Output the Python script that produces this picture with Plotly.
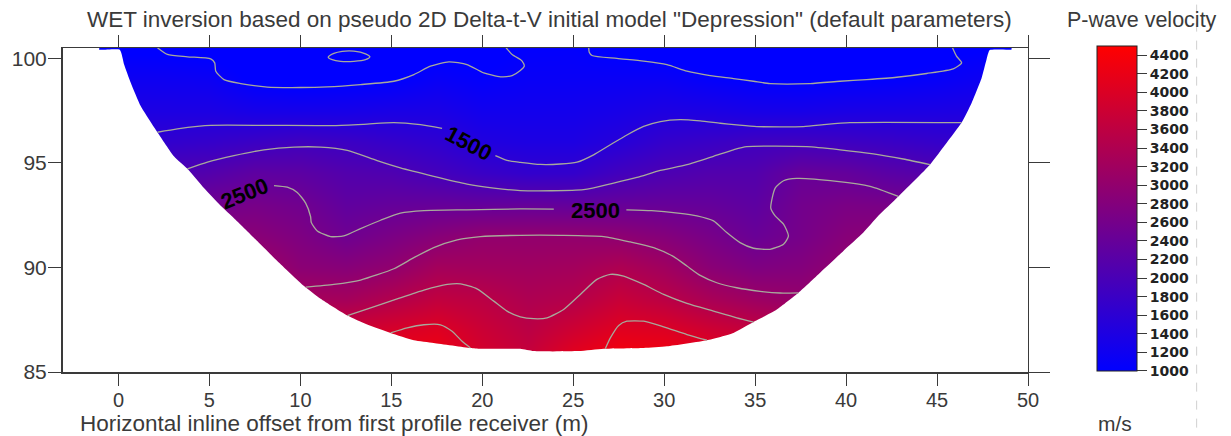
import plotly.graph_objects as go

# ---------- data ----------
X_GRID = [-2.5, 0, 2.5, 5, 7.5, 10, 12.5, 15, 17.5, 20, 22.5, 25, 27.5, 30, 32.5, 35, 37.5, 40, 42.5, 45, 47.5, 50]
Y_GRID = [100.5, 99, 97.5, 96, 94.5, 93, 91.5, 90, 88.5, 87, 85.5]
# velocity (m/s) per x column, listed from top (100.5 m) to bottom (85.5 m)
VELOCITY_COLUMNS = [
    [950, 1180, 1390, 1680, 2070, 2560, 3000, 3375, 3750, 4100, 4400],
    [960, 1190, 1400, 1680, 2070, 2560, 3000, 3375, 3750, 4100, 4400],
    [950, 1180, 1390, 1675, 2067, 2560, 3000, 3375, 3750, 4100, 4400],
    [920, 1156, 1390, 1722, 2139, 2553, 2947, 3360, 3750, 4100, 4400],
    [850, 960, 1320, 1808, 2294, 2633, 2883, 3222, 3667, 4170, 4500],
    [850, 900, 1305, 1880, 2266, 2548, 2726, 2905, 3290, 3917, 4400],
    [900, 940, 1311, 1820, 2131, 2319, 2511, 2845, 3250, 3830, 4300],
    [880, 975, 1355, 1729, 2080, 2380, 2680, 2980, 3437, 3948, 4400],
    [900, 1110, 1364, 1640, 1940, 2405, 2855, 3250, 3640, 4060, 4350],
    [900, 1040, 1243, 1446, 1789, 2380, 3000, 3222, 3555, 3780, 3950],
    [1020, 1110, 1250, 1400, 1690, 2390, 3000, 3190, 3385, 3560, 3750],
    [1030, 1120, 1260, 1400, 1700, 2370, 3000, 3234, 3470, 3830, 4200],
    [950, 1130, 1320, 1525, 1910, 2410, 2950, 3385, 3730, 4080, 4450],
    [900, 1135, 1406, 1715, 2050, 2415, 2820, 3198, 3560, 4030, 4400],
    [900, 1045, 1386, 1786, 2127, 2381, 2636, 2890, 3315, 3833, 4300],
    [880, 980, 1325, 1875, 2129, 2284, 2438, 2730, 3145, 3680, 4200],
    [880, 960, 1317, 1890, 2418, 2570, 2620, 2800, 3050, 3500, 4000],
    [880, 990, 1360, 1850, 2370, 2680, 2850, 3000, 3300, 3700, 4100],
    [900, 1020, 1370, 1790, 2220, 2650, 2950, 3200, 3500, 3850, 4200],
    [950, 1080, 1385, 1730, 2150, 2600, 3000, 3300, 3600, 3900, 4200],
    [980, 1180, 1410, 1730, 2150, 2600, 3000, 3300, 3600, 3900, 4200],
    [1000, 1200, 1420, 1740, 2160, 2600, 3000, 3300, 3600, 3900, 4200],
]

# model outline (x, elevation)
OUTLINE_X = [-1.06, 0.07, 0.31, 0.68, 1.23, 2.14, 3.06, 3.79, 4.70, 5.62, 6.35, 7.63, 8.73, 10.20, 11.11, 12.58, 13.67, 14.96, 16.24, 17.33, 19.35, 19.90, 22.09, 22.83, 25.30, 26.67, 28.87, 30.15, 32.35, 33.81, 34.91, 36.19, 37.38, 38.57, 39.85, 40.95, 41.77, 42.87, 44.61, 45.52, 46.35, 46.90, 47.45, 47.72, 47.90, 49.10]
OUTLINE_Y = [100.42, 100.42, 99.71, 98.83, 97.71, 96.47, 95.31, 94.72, 93.80, 92.95, 92.36, 91.27, 90.31, 89.11, 88.50, 87.70, 87.27, 86.87, 86.52, 86.39, 86.15, 86.11, 86.11, 86.00, 86.00, 86.11, 86.15, 86.23, 86.52, 86.87, 87.39, 87.99, 88.79, 89.75, 90.79, 91.67, 92.47, 93.40, 94.92, 95.95, 96.93, 97.87, 99.07, 99.95, 100.40, 100.43]

# isolines (x, elevation)
ISO_1000_A_X = [2.14, 2.69, 3.79, 5.07, 5.29, 5.35, 5.80, 6.72, 8.18, 10.01, 11.48, 13.31, 15.14, 16.24, 17.15, 18.16, 19.16, 20.08, 21.00, 21.64, 22.09, 22.31, 22.19, 22.09, 21.64, 21.36, 21.31]
ISO_1000_A_Y = [100.51, 100.19, 100.08, 99.98, 99.79, 99.39, 98.99, 98.80, 98.63, 98.61, 98.64, 98.75, 98.91, 99.23, 99.63, 99.84, 99.71, 99.31, 99.12, 99.18, 99.42, 99.63, 99.87, 99.95, 100.19, 100.46, 100.51]
ISO_1000_LOOP_X = [11.53, 11.84, 12.30, 12.94, 13.58, 13.82, 13.58, 12.94, 12.21, 11.75, 11.53]
ISO_1000_LOOP_Y = [100.06, 100.24, 100.34, 100.35, 100.22, 100.08, 99.94, 99.86, 99.86, 99.94, 100.06]
ISO_1000_B_X = [25.85, 25.88, 26.03, 27.40, 28.87, 30.15, 31.25, 32.53, 33.81, 34.91, 35.82, 38.02, 39.67, 41.13, 42.78, 44.43, 45.89, 46.35, 46.07, 45.85]
ISO_1000_B_Y = [100.51, 100.30, 100.14, 100.00, 99.87, 99.70, 99.39, 99.18, 99.04, 98.91, 98.80, 98.80, 98.91, 98.99, 99.10, 99.28, 99.50, 99.79, 100.11, 100.51]
ISO_1500_A_X = [2.14, 3.24, 4.34, 5.07, 8.18, 11.84, 13.49, 15.14, 16.60, 17.79]
ISO_1500_A_Y = [96.47, 96.63, 96.75, 96.80, 96.80, 96.79, 96.85, 96.93, 96.83, 96.66]
ISO_1500_B_X = [20.72, 21.36, 22.09, 23.19, 24.29, 25.21, 26.12, 27.04, 27.95, 28.87, 29.79, 30.88, 31.98, 33.08, 33.99, 35.09, 37.65, 38.93, 40.21, 46.35]
ISO_1500_B_Y = [95.35, 95.12, 95.03, 94.93, 94.95, 95.04, 95.39, 95.87, 96.34, 96.75, 96.98, 97.07, 97.01, 96.90, 96.82, 96.74, 96.74, 96.85, 96.93, 96.93]
ISO_2000_X = [3.79, 4.89, 6.35, 8.00, 9.65, 11.11, 12.58, 14.22, 15.50, 17.33, 19.16, 20.63, 22.09, 25.57, 27.22, 28.50, 29.78, 31.25, 32.71, 33.81, 34.54, 37.84, 39.67, 41.50, 43.14, 44.61]
ISO_2000_Y = [94.72, 95.04, 95.35, 95.63, 95.76, 95.76, 95.60, 95.11, 94.76, 94.36, 93.99, 93.80, 93.68, 93.72, 94.04, 94.31, 94.64, 94.92, 95.32, 95.63, 95.78, 95.78, 95.63, 95.44, 95.19, 94.92]
ISO_2500_A_X = [8.55, 9.28, 9.83, 10.29, 10.56, 10.60, 10.93, 11.66, 12.39, 13.31, 14.41, 15.50, 16.79, 19.16, 22.09, 23.93]
ISO_2500_A_Y = [93.92, 93.84, 93.59, 93.08, 92.44, 92.15, 91.75, 91.48, 91.51, 91.86, 92.26, 92.60, 92.72, 92.76, 92.80, 92.79]
ISO_2500_B_X = [27.92, 29.31, 30.76, 31.80, 32.71, 33.44, 34.17, 34.91, 35.82, 36.56, 36.83, 36.56, 36.10, 35.86, 36.10, 36.56, 37.29, 39.49, 41.32, 42.87]
ISO_2500_B_Y = [92.76, 92.72, 92.60, 92.47, 92.23, 91.67, 91.19, 90.92, 90.87, 91.11, 91.51, 92.07, 92.47, 92.84, 93.80, 94.15, 94.26, 94.12, 93.88, 93.40]
ISO_3000_X = [10.29, 11.84, 13.31, 15.14, 16.24, 17.33, 18.62, 19.90, 22.09, 24.29, 26.67, 28.14, 29.42, 30.52, 31.25, 31.98, 32.89, 33.99, 35.27, 36.37, 37.38]
ISO_3000_Y = [89.06, 89.19, 89.40, 89.94, 90.47, 90.95, 91.32, 91.48, 91.54, 91.54, 91.48, 91.22, 90.95, 90.52, 90.07, 89.62, 89.27, 89.03, 88.86, 88.78, 88.79]
ISO_3500_X = [12.58, 13.86, 15.32, 16.79, 18.07, 18.80, 19.71, 20.63, 21.36, 22.09, 22.83, 23.56, 24.47, 25.39, 26.30, 27.04, 27.77, 28.87, 29.97, 31.25, 32.71, 33.99, 34.91]
ISO_3500_Y = [87.70, 88.07, 88.50, 88.92, 89.19, 89.22, 88.98, 88.39, 87.91, 87.64, 87.55, 87.59, 87.99, 88.71, 89.43, 89.67, 89.59, 89.19, 88.71, 88.28, 87.91, 87.59, 87.39]
ISO_4000_A_X = [14.96, 15.87, 16.79, 17.70, 18.34, 18.89, 19.35]
ISO_4000_A_Y = [86.87, 87.11, 87.26, 87.26, 86.95, 86.47, 86.15]
ISO_4000_B_X = [26.76, 27.04, 27.50, 27.95, 28.87, 29.97, 31.25, 32.35]
ISO_4000_B_Y = [86.11, 86.63, 87.23, 87.43, 87.43, 87.16, 86.79, 86.52]

ISO_LABELS = ["1500", "2500", "2500"]
ISO_LABEL_X = [19.26, 6.94, 26.21]
ISO_LABEL_Y = [95.92, 93.55, 92.72]
ISO_LABEL_ANGLE = [28, -22, 0]

X_TICKS = [0, 5, 10, 15, 20, 25, 30, 35, 40, 45, 50]
Y_TICKS = [85, 90, 95, 100]
BAR_TICKS = list(range(1000, 4401, 200))

TITLE = 'WET inversion based on pseudo 2D Delta-t-V initial model "Depression" (default parameters)'
X_TITLE = "Horizontal inline offset from first profile receiver (m)"

# ---------- layout constants ----------
X_RANGE = [-3.05, 50]
Y_RANGE = [85, 100.5]
INK = "#3a3a3a"
ISO_COLOR = "#a8a99b"
FONT = "Liberation Sans"
L, R, T, B = 63, 1028.3, 48.3, 371.7


def px(x):
    return (x - L) / (R - L)


def py(y):
    return (B - y) / (B - T)


z = [list(r) for r in zip(*VELOCITY_COLUMNS)]

fig = go.Figure()
fig.add_trace(go.Heatmap(
    x=X_GRID, y=Y_GRID, z=z, zmin=1000, zmax=4500, zsmooth="best",
    colorscale=[[0, "#0000ff"], [1, "#ff0000"]],
    hoverinfo="skip",
    colorbar=dict(
        x=px(1097.5), xanchor="left", xpad=0, ypad=0,
        y=py(208.5), yanchor="middle",
        thickness=40, thicknessmode="pixels", len=325, lenmode="pixels",
        outlinecolor="#222", outlinewidth=1,
        tickmode="array", tickvals=BAR_TICKS, ticks="outside", ticklen=10, tickcolor=INK,
        tickfont=dict(family="DejaVu Sans", size=14, color="#222", weight="bold"),
    ),
))

# white mask outside of the model outline (its outer corners lie beyond the clipped axes)
far_l, far_r, far_t, far_b = X_RANGE[0] - 8, X_RANGE[1] + 8, Y_RANGE[1], Y_RANGE[0] - 6
mask_x = [far_l, OUTLINE_X[0]] + OUTLINE_X + [OUTLINE_X[-1], far_r, far_r, far_l, far_l]
mask_y = [far_t, far_t] + OUTLINE_Y + [far_t, far_t, far_b, far_b, far_t]
fig.add_trace(go.Scatter(x=mask_x, y=mask_y, mode="lines", fill="toself", fillcolor="white",
                         line=dict(width=0, color="white", shape="spline", smoothing=0.5),
                         hoverinfo="skip", showlegend=False))

for xs, ys in [
    (ISO_1000_A_X, ISO_1000_A_Y), (ISO_1000_B_X, ISO_1000_B_Y),
    (ISO_1500_A_X, ISO_1500_A_Y), (ISO_1500_B_X, ISO_1500_B_Y), (ISO_2000_X, ISO_2000_Y),
    (ISO_2500_A_X, ISO_2500_A_Y), (ISO_2500_B_X, ISO_2500_B_Y), (ISO_3000_X, ISO_3000_Y),
    (ISO_3500_X, ISO_3500_Y), (ISO_4000_A_X, ISO_4000_A_Y), (ISO_4000_B_X, ISO_4000_B_Y),
]:
    fig.add_trace(go.Scatter(x=xs, y=ys, mode="lines", showlegend=False, hoverinfo="skip",
                             line=dict(color=ISO_COLOR, width=1.3, shape="spline", smoothing=0.6)))

# the closed loop lives on the mirrored axes, which draw the top and right ticks
fig.add_trace(go.Scatter(x=ISO_1000_LOOP_X, y=ISO_1000_LOOP_Y, xaxis="x2", yaxis="y2", mode="lines",
                         showlegend=False, hoverinfo="skip",
                         line=dict(color=ISO_COLOR, width=1.3, shape="spline", smoothing=0.8)))

annotations = []
for t, x, y, a in zip(ISO_LABELS, ISO_LABEL_X, ISO_LABEL_Y, ISO_LABEL_ANGLE):
    annotations.append(dict(text=t, x=x, y=y, xref="x", yref="y", textangle=a, showarrow=False,
                            font=dict(family=FONT, size=22, color="#000", weight="bold")))
for t, cx, cy, size in [
    (TITLE, 549.5, 20, 22.5),
    (X_TITLE, 335, 423, 22.5),
    ("P-wave velocity", 1142, 20, 21.5),
    ("m/s", 1115, 423, 21),
]:
    annotations.append(dict(text=t, x=px(cx), y=py(cy), xref="paper", yref="paper", showarrow=False,
                            xanchor="center", yanchor="middle", borderpad=0,
                            font=dict(family=FONT, size=size, color=INK)))

fig.update_layout(
    width=1231, height=436, margin=dict(l=L, r=1231 - R, t=T, b=436 - B),
    paper_bgcolor="white", plot_bgcolor="white", showlegend=False,
    annotations=annotations,
    xaxis=dict(range=X_RANGE, automargin=False, tickmode="array", tickvals=X_TICKS, ticks="outside", ticklen=12,
               tickwidth=1, tickcolor=INK, showline=True, linecolor=INK, linewidth=2, showgrid=False,
               zeroline=False, tickfont=dict(family=FONT, size=20, color=INK), ticklabelstandoff=-3),
    yaxis=dict(range=Y_RANGE, automargin=False, tickmode="array", tickvals=Y_TICKS, ticks="outside", ticklen=13,
               tickwidth=1, tickcolor=INK, showline=True, linecolor=INK, linewidth=2, showgrid=False,
               zeroline=False, tickfont=dict(family=FONT, size=21, color=INK), ticklabelstandoff=-3),
    xaxis2=dict(range=X_RANGE, automargin=False, overlaying="x", side="top", anchor="y2", tickmode="array",
                tickvals=X_TICKS, ticks="outside", ticklen=12, tickwidth=1, tickcolor=INK, showline=True,
                linecolor=INK, linewidth=1, showgrid=False, zeroline=False, showticklabels=False),
    yaxis2=dict(range=Y_RANGE, automargin=False, overlaying="y", side="right", anchor="x2", tickmode="array",
                tickvals=Y_TICKS, ticks="outside", ticklen=21, tickwidth=1, tickcolor=INK, showline=True,
                linecolor=INK, linewidth=1, showgrid=False, zeroline=False, showticklabels=False),
    shapes=[dict(type="line", xref="paper", yref="paper", x0=px(1197), x1=px(1197), y0=py(5), y1=py(436),
                 line=dict(color="#d0d0d0", width=1, dash="dash"))],
)

fig.write_html("out.html", config=dict(displayModeBar=False),
               post_script="document.body.style.margin='0';")
